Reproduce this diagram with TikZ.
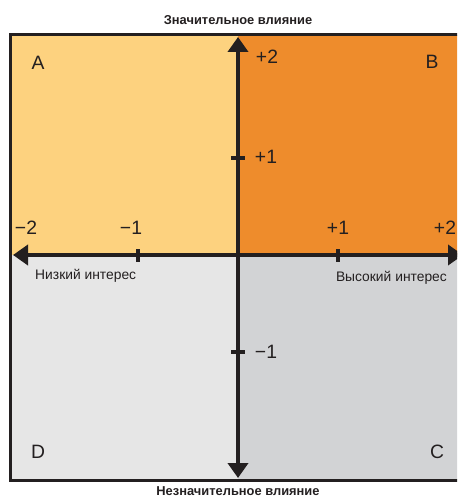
\documentclass[tikz,border=0pt]{standalone}
\usepackage{fontspec}
\setmainfont{Liberation Sans}
\usepackage{xcolor}
\usetikzlibrary{arrows.meta}
\definecolor{qLow}{HTML}{FDD27F}
\definecolor{qHigh}{HTML}{EE8C2C}
\definecolor{qGreyL}{HTML}{E6E6E6}
\definecolor{qGreyR}{HTML}{D2D3D5}
\definecolor{inkDark}{HTML}{231F20}

\begin{document}
\begin{tikzpicture}[
  x=0.3mm, y=-0.3mm,
  frame/.style={draw=inkDark, line width=0.9mm},
  axis/.style={draw=inkDark, line width=1.2mm,
               {Triangle[length=4.5mm,width=6mm]}-{Triangle[length=4.5mm,width=6mm]}},
  tickmark/.style={draw=inkDark, line width=1mm},
  ticklbl/.style={text=inkDark, inner sep=0pt, font=\fontsize{16.5}{16.5}\selectfont},
  letter/.style={text=inkDark, inner sep=0pt, font=\fontsize{16.5}{16.5}\selectfont},
  sidelbl/.style={text=inkDark, inner sep=0pt, font=\fontsize{11.8}{13}\selectfont},
  title/.style={text=inkDark, inner sep=0pt, font=\bfseries\fontsize{11}{13}\selectfont},
]
\useasboundingbox (0,0) rectangle (457,498);
\clip (0,0) rectangle (457,498);

% quadrants
\fill[qLow]   (11,35)  rectangle (238,255);
\fill[qHigh]  (238,35) rectangle (470,255);
\fill[qGreyL] (11,255) rectangle (238,480);
\fill[qGreyR] (238,255) rectangle (470,480);
\draw[frame] (10.5,34.5) rectangle (470,480.5);

% axes
\coordinate (xL) at (13,255);
\coordinate (xR) at (463,255);
\coordinate (yT) at (238,37);
\coordinate (yB) at (238,478);
\draw[axis] (xL) -- (xR);
\draw[axis] (yB) -- (yT);

% ticks
\foreach \x in {138,338}
  \draw[tickmark] (\x,249) -- (\x,262);
\foreach \y in {158,352}
  \draw[tickmark] (231,\y) -- (245,\y);

% tick labels
\node[ticklbl] (xm2) at (26,228) {−2};
\node[ticklbl] (xm1) at (131,228) {−1};
\node[ticklbl] (xp1) at (338,228) {+1};
\node[ticklbl] (xp2) at (445,228) {+2};
\node[ticklbl] (yp2) at (267,57) {+2};
\node[ticklbl] (yp1) at (266,157) {+1};
\node[ticklbl] (ym1) at (266,352) {−1};

% quadrant letters
\node[letter] (qa) at (38,63) {A};
\node[letter] (qb) at (432,62) {B};
\node[letter] (qd) at (38,452) {D};
\node[letter] (qc) at (437,452) {C};

% axis captions
\node[sidelbl, anchor=west] (lowint) at (35,276) {Низкий интерес};
\node[sidelbl, anchor=east] (highint) at (447,278) {Высокий интерес};
\node[title] (hiinf) at (238,20) {Значительное влияние};
\node[title] (loinf) at (238,491) {Незначительное влияние};
\end{tikzpicture}
\end{document}
